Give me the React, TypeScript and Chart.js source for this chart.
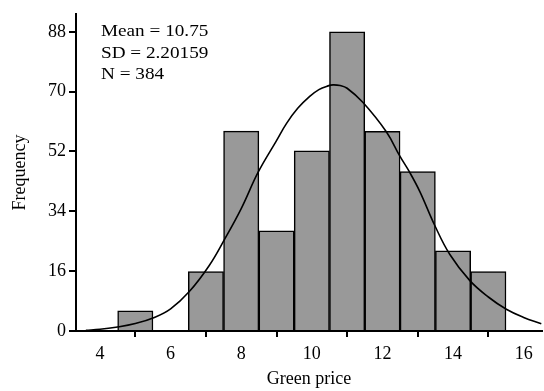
import React, { useEffect, useRef } from "react";
import { Chart, registerables } from "chart.js";

Chart.register(...registerables);

// Histogram bins (centers) and bar heights (in the axis' own units)
const binCenters = [5, 6, 7, 8, 9, 10, 11, 12, 13, 14, 15];
const binHeights = [5.9, 0, 17.5, 58.8, 29.5, 53, 88, 58.7, 46.9, 23.6, 17.5];

// Fitted normal curve
const curveX = [3.6, 4.0, 4.45, 5.0, 5.54, 6.0, 6.53, 7.09, 7.52, 8.0, 8.48, 9.0, 9.28, 9.6, 9.94, 10.2, 10.46, 10.6, 10.8, 11.0, 11.45, 12.11, 12.49, 12.77, 13.06, 13.48, 13.91, 14.47, 15.0, 15.51, 16.0, 16.5];
const curveY = [0.2, 0.5, 1.1, 2.2, 4.0, 6.5, 11.6, 19.2, 26.8, 36, 46.7, 56, 61, 65.5, 69, 71, 72.1, 72.4, 72.2, 71.4, 67.2, 58.6, 51.5, 46.7, 41, 31.1, 22.5, 14.9, 10, 6.4, 4, 2.1];

// Axis ticks
const yTickValues = [0, 17.6, 35.2, 52.8, 70.4, 88];
const yTickLabels = ["0", "16", "34", "52", "70", "88"];
const xTickValues = [4, 6, 8, 10, 12, 14, 16];

const statLines = ["Mean = 10.75", "SD = 2.20159", "N = 384"];

const FONT = "'Liberation Serif', 'Times New Roman', serif";

export default function App() {
  const ref = useRef<HTMLCanvasElement | null>(null);

  useEffect(() => {
    document.body.style.margin = "0";
    const canvas = ref.current!;
    const statsPlugin = {
      id: "stats",
      afterDraw(chart: any) {
        const ctx = chart.ctx;
        ctx.save();
        ctx.font = `16px ${FONT}`;
        ctx.fillStyle = "#000";
        ctx.textBaseline = "alphabetic";
        ctx.textAlign = "left";
        const sx = 1.2;
        ctx.scale(sx, 1);
        const x0 = chart.chartArea.left + 25;
        statLines.forEach((t, i) => ctx.fillText(t, x0 / sx, 36 + i * 21.6));
        ctx.restore();
      },
    };

    const chart = new Chart(canvas, {
      type: "bar",
      data: {
        datasets: [
          {
            type: "line",
            data: curveX.map((x, i) => ({ x, y: curveY[i] })),
            borderColor: "#000",
            borderWidth: 1.6,
            pointRadius: 0,
            fill: false,
            tension: 0.4,
            order: 0,
          } as any,
          {
            type: "bar",
            data: binCenters.map((x, i) => ({ x, y: binHeights[i] })),
            backgroundColor: "#999999",
            borderColor: "#000",
            borderWidth: 1.5,
            borderSkipped: "bottom",
            barPercentage: 1,
            categoryPercentage: 1,
            order: 1,
          } as any,
        ],
      },
      plugins: [statsPlugin],
      options: {
        responsive: false,
        animation: false,
        layout: { padding: { top: 3, right: 2, left: 0, bottom: 0 } },
        plugins: { legend: { display: false }, tooltip: { enabled: false } },
        scales: {
          x: {
            type: "linear",
            min: 3.32,
            max: 16.52,
            offset: false,
            afterBuildTicks: (s: any) => {
              s.ticks = xTickValues.map((v) => ({ value: v }));
            },
            afterFit: (s: any) => {
              s.height = 60;
            },
            ticks: {
              color: "#000",
              font: { family: FONT, size: 18 },
              padding: 6,
              maxRotation: 0,
              autoSkip: false,
            },
            grid: {
              display: true,
              drawOnChartArea: false,
              drawTicks: true,
              tickLength: 6,
              color: "#000",
              lineWidth: 2,
            },
            border: { display: true, color: "#000", width: 2 },
            title: {
              display: true,
              text: "Green price",
              color: "#000",
              font: { family: FONT, size: 18 },
              padding: { top: 0, bottom: 1 },
            },
          },
          y: {
            type: "linear",
            min: 0,
            max: 93.3,
            afterBuildTicks: (s: any) => {
              s.ticks = yTickValues.map((v) => ({ value: v }));
            },
            afterFit: (s: any) => {
              s.width = 76;
            },
            ticks: {
              color: "#000",
              font: { family: FONT, size: 18 },
              padding: 3,
              autoSkip: false,
              callback: (_v: any, i: number) => yTickLabels[i],
            },
            grid: {
              display: true,
              drawOnChartArea: false,
              drawTicks: true,
              tickLength: 7,
              color: "#000",
              lineWidth: 2,
            },
            border: { display: true, color: "#000", width: 2 },
            title: {
              display: true,
              text: "Frequency",
              color: "#000",
              font: { family: FONT, size: 18 },
              padding: { top: 9, bottom: 0 },
            },
          },
        },
      },
    } as any);
    return () => chart.destroy();
  }, []);

  return (
    <div style={{ position: "absolute", left: 0, top: 0, width: 544, height: 391 }}>
      <canvas ref={ref} width={544} height={391} style={{ display: "block" }} />
    </div>
  );
}
